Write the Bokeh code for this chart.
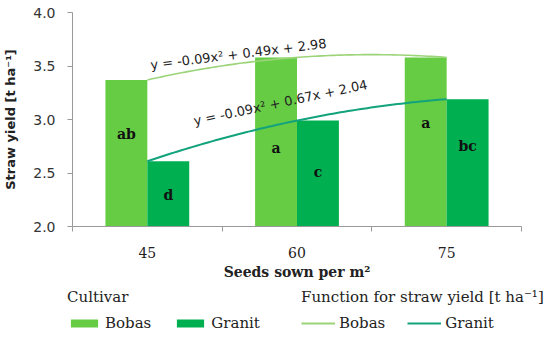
import numpy as np
from bokeh.plotting import figure
from bokeh.layouts import column
from bokeh.models import (Range1d, FixedTicker, Label, Legend, LegendItem,
                          ColumnDataSource, NumeralTickFormatter)
from bokeh.core.properties import value
from bokeh.embed import file_html
from bokeh.resources import INLINE

# ---- data ----
categories = ["45", "60", "75"]
bobas = [3.37, 3.58, 3.58]
granit = [2.61, 2.99, 3.19]
bobas_letters = ["ab", "a", "a"]
granit_letters = ["d", "c", "bc"]
bobas_letter_y = [2.86, 2.73, 2.97]
granit_letter_y = [2.29, 2.51, 2.75]
y_ticks = [2.0, 2.5, 3.0, 3.5, 4.0]
bobas_eq = "y = -0.09x\u00b2 + 0.49x + 2.98"
granit_eq = "y = -0.09x\u00b2 + 0.67x + 2.04"
series = ["Bobas", "Granit"]

BOBAS_BAR = "#66cc44"
GRANIT_BAR = "#00b050"
BOBAS_LINE = "#9cd47a"
GRANIT_LINE = "#12a37c"
SERIF = "DejaVu Serif"
SANS = "DejaVu Sans"

n = len(categories)
centers = np.arange(n) + 0.5
bw = 0.28

p = figure(width=550, height=282, x_range=Range1d(0, n), y_range=Range1d(2, 4),
           output_backend="svg", toolbar_location=None,
           min_border_left=72, min_border_right=29, min_border_top=12,
           min_border_bottom=54)
p.frame_align = False
p.grid.visible = False
p.outline_line_color = None

src = ColumnDataSource(dict(xb=centers - bw / 2, xg=centers + bw / 2,
                            bobas=bobas, granit=granit,
                            bl=bobas_letters, gl=granit_letters,
                            bly=bobas_letter_y, gly=granit_letter_y))

p.vbar(x="xb", top="bobas", bottom=2, width=bw, source=src,
       fill_color=BOBAS_BAR, line_color=None)
p.vbar(x="xg", top="granit", bottom=2, width=bw, source=src,
       fill_color=GRANIT_BAR, line_color=None)

# quadratic trend lines (Excel-style fit through the bar values)
xs = np.linspace(centers[0], centers[-1], 80)
idx = np.arange(1, n + 1)
tt = (xs - centers[0]) + 1
cb = np.polyfit(idx, bobas, 2)
cg = np.polyfit(idx, granit, 2)
p.line(xs, np.polyval(cb, tt), line_color=BOBAS_LINE, line_width=1.6)
p.line(xs, np.polyval(cg, tt), line_color=GRANIT_LINE, line_width=2)

p.text(x="xb", y="bly", text="bl", source=src, text_font=value(SERIF),
       text_font_style="bold", text_font_size="14px", text_align="center",
       text_baseline="middle", text_color="#111111")
p.text(x="xg", y="gly", text="gl", source=src, text_font=value(SERIF),
       text_font_style="bold", text_font_size="14px", text_align="center",
       text_baseline="middle", text_color="#111111")

p.add_layout(Label(x=1.109, y=3.611, text=bobas_eq, angle=7, angle_units="deg",
                   text_align="center", text_baseline="middle",
                   text_font=SANS, text_font_size="13px", text_color="#222222"))
p.add_layout(Label(x=1.39, y=3.157, text=granit_eq, angle=12, angle_units="deg",
                   text_align="center", text_baseline="middle",
                   text_font=SANS, text_font_size="13px", text_color="#222222"))

# axes
ax_col = "#9a9a9a"
p.yaxis.ticker = FixedTicker(ticks=y_ticks)
p.yaxis.formatter = NumeralTickFormatter(format="0.0")
p.yaxis.axis_line_color = ax_col
p.yaxis.major_tick_line_color = ax_col
p.yaxis.major_tick_out = 5
p.yaxis.major_tick_in = 0
p.yaxis.minor_tick_line_color = None
p.yaxis.major_label_text_font = SANS
p.yaxis.major_label_text_font_size = "14px"
p.yaxis.major_label_text_color = "#333333"
p.yaxis.major_label_standoff = 12
p.yaxis.axis_label = "Straw yield [t ha\u207b\u00b9]"
p.yaxis.axis_label_text_font = SANS
p.yaxis.axis_label_text_font_style = "bold"
p.yaxis.axis_label_text_font_size = "13px"
p.yaxis.axis_label_text_color = "#222222"
p.yaxis.axis_label_standoff = 12

p.xaxis.ticker = FixedTicker(ticks=list(centers), minor_ticks=list(range(n + 1)))
p.xaxis.major_label_overrides = {float(c): lab for c, lab in zip(centers, categories)}
p.xaxis.axis_line_color = ax_col
p.xaxis.major_tick_line_color = None
p.xaxis.minor_tick_line_color = ax_col
p.xaxis.minor_tick_out = 5
p.xaxis.minor_tick_in = 0
p.xaxis.major_label_text_font = SERIF
p.xaxis.major_label_text_font_size = "14px"
p.xaxis.major_label_text_color = "#222222"
p.xaxis.major_label_standoff = 14
p.xaxis.axis_label = "Seeds sown per m\u00b2"
p.xaxis.axis_label_text_font = SERIF
p.xaxis.axis_label_text_font_style = "bold"
p.xaxis.axis_label_text_font_size = "14px"
p.xaxis.axis_label_text_color = "#222222"
p.xaxis.axis_label_standoff = 3

# ---- legend strip (separate figure so nothing gets clipped) ----
lf = figure(width=550, height=57, x_range=Range1d(0, 1), y_range=Range1d(0, 1),
            x_axis_type=None, y_axis_type=None, output_backend="svg",
            toolbar_location=None, min_border=0)
lf.frame_align = False
lf.grid.visible = False
lf.outline_line_color = None
# legend-key renderers kept outside the visible range
kb = lf.vbar(x=[9], top=[9], bottom=[8], width=1, fill_color=BOBAS_BAR, line_color=None)
kg = lf.vbar(x=[9], top=[9], bottom=[8], width=1, fill_color=GRANIT_BAR, line_color=None)
kbl = lf.line(x=[8, 9], y=[9, 9], line_color=BOBAS_LINE, line_width=2)
kgl = lf.line(x=[8, 9], y=[9, 9], line_color=GRANIT_LINE, line_width=2)

def make_legend(title, items, loc, title_size):
    lg_ = Legend(items=items, title=title, orientation="horizontal", location=loc,
                 border_line_color=None, background_fill_alpha=0, padding=0,
                 margin=0, glyph_width=34, glyph_height=10, label_height=16,
                 label_standoff=4, spacing=22, title_standoff=8,
                 label_text_font=SERIF, label_text_font_size="15px",
                 label_text_color="#222222",
                 title_text_font=SERIF, title_text_font_size=title_size,
                 title_text_font_style="normal", title_text_color="#222222")
    lf.add_layout(lg_)

make_legend("Cultivar", [LegendItem(label=series[0], renderers=[kb]),
                         LegendItem(label=series[1], renderers=[kg])], (67, 7), "15px")
make_legend("Function for straw yield [t ha\u207b\u00b9]",
            [LegendItem(label=series[0], renderers=[kbl]),
             LegendItem(label=series[1], renderers=[kgl])], (301, 7), "15px")

open("out.html", "w").write(file_html(column(p, lf, spacing=0), INLINE))
